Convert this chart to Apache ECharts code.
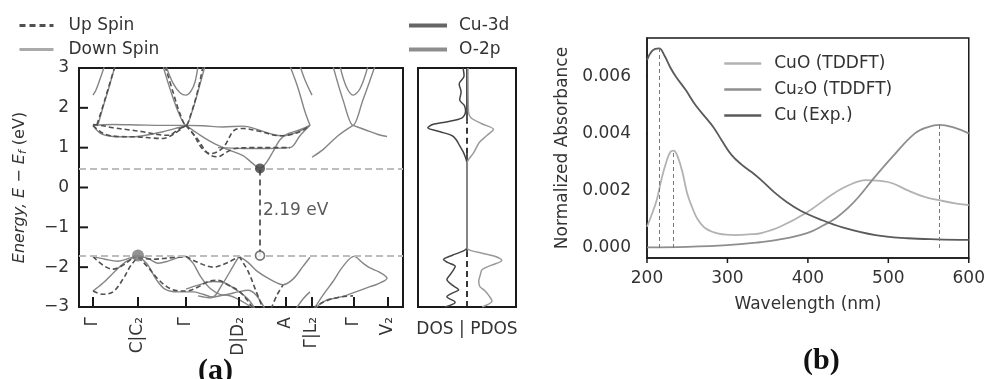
<!DOCTYPE html>
<html>
<head>
<meta charset="utf-8">
<script src="https://cdn.jsdelivr.net/npm/echarts@6/dist/echarts.min.js"></script>
<style>
html,body{margin:0;padding:0;background:#fff;}
#chart{width:988px;height:379px;}
</style>
</head>
<body>
<div id="chart"></div>
<script>
// ---------- (a) band structure ----------
const kTickPos = [0, 0.45, 0.93, 1.46, 1.93, 2.19, 2.61, 2.95];
const kTickLabels = ['Γ', 'C|C₂', 'Γ', 'D|D₂', 'A', 'Γ|L₂', 'Γ', 'V₂'];
const energyTicks = [-3, -2, -1, 0, 1, 2, 3];

// band edges and k-points of the extrema (eV)
const cbm = 0.48;
const vbm = -1.71;
const kGap = 1.67;
const kVbm = 0.45;
const gapLabelE = -0.58;

// spin-up bands [k, E]
const upSpinBands = [
  [[0.04,1.58],[0.1,2.05],[0.16,2.55],[0.22,3.05]],
  [[0,1.58],[0.1,1.55],[0.2,1.5],[0.35,1.45],[0.5,1.4],[0.65,1.33],[0.75,1.31],[0.85,1.45],[0.93,1.56]],
  [[0,1.56],[0.1,1.36],[0.25,1.28],[0.45,1.27],[0.6,1.24],[0.7,1.23],[0.8,1.33],[0.93,1.56]],
  [[0.72,3.05],[0.8,2.4],[0.87,1.85],[0.93,1.56],[0.98,1.85],[1.05,2.45],[1.10,3.05]],
  [[0.93,1.56],[1.0,1.35],[1.1,0.95],[1.18,0.85],[1.3,1.0],[1.42,1.45],[1.5,1.48],[1.65,1.42],[1.87,1.3],[2.05,1.38],[2.17,1.56]],
  [[0.93,1.56],[1.05,1.2],[1.15,0.85],[1.25,0.77],[1.33,0.88],[1.42,0.98],[1.6,1.0],[1.8,1.0],[1.97,1.0]],
  [[0,-1.73],[0.1,-1.95],[0.2,-2.05],[0.3,-1.95],[0.4,-1.77],[0.45,-1.72]],
  [[0,-2.6],[0.1,-2.68],[0.2,-2.62],[0.3,-2.3],[0.38,-1.95],[0.45,-1.75]],
  [[0.45,-1.75],[0.55,-2.0],[0.65,-2.3],[0.78,-2.55],[0.93,-2.6],[1.05,-2.5],[1.15,-2.36],[1.25,-2.33],[1.35,-2.45],[1.46,-2.6],[1.55,-2.85],[1.6,-3.05]],
  [[0.45,-1.76],[0.6,-1.8],[0.75,-1.77],[0.93,-1.73]],
  [[0.93,-1.73],[1.05,-1.88],[1.2,-2.0],[1.35,-1.88],[1.46,-1.73]],
  [[1.46,-1.73],[1.55,-2.1],[1.63,-2.6],[1.7,-3.05]],
  [[1.78,-3.05],[1.84,-2.7],[1.9,-2.45]],
  [[2.2,-3.05],[2.3,-2.88],[2.45,-2.76],[2.6,-2.72]]
];

// spin-down bands [k, E]
const downSpinBands = [
  [[0,2.32],[0.03,2.45],[0.07,2.72],[0.115,3.05]],
  [[0.05,1.58],[0.11,2.1],[0.17,2.6],[0.22,3.05]],
  [[0,1.56],[0.2,1.58],[0.45,1.57],[0.7,1.56],[0.93,1.56],[1.1,1.55],[1.3,1.52],[1.5,1.54],[1.65,1.45],[1.8,1.33],[1.9,1.3],[2.05,1.4],[2.17,1.56]],
  [[0,1.56],[0.08,1.35],[0.2,1.28],[0.35,1.27],[0.5,1.3],[0.7,1.4],[0.85,1.5],[0.93,1.56]],
  [[0.70,3.05],[0.78,2.4],[0.86,1.85],[0.93,1.56],[0.99,1.9],[1.06,2.5],[1.12,3.05]],
  [[0.73,3.05],[0.8,2.62],[0.87,2.38],[0.93,2.32],[0.98,2.42],[1.02,2.65],[1.05,3.05]],
  [[0.93,1.56],[1.05,1.35],[1.2,1.12],[1.35,0.95],[1.5,0.8],[1.6,0.6],[1.67,0.48],[1.74,0.65],[1.8,0.9],[1.87,1.2],[1.95,1.35],[2.07,1.45],[2.17,1.56]],
  [[1.25,1.0],[1.5,0.98],[1.75,0.98],[1.97,1.0],[2.07,1.3],[2.17,1.56]],
  [[1.97,3.05],[2.05,2.5],[2.12,1.9],[2.17,1.56]],
  [[2.07,3.05],[2.12,2.7],[2.19,2.32]],
  [[2.40,3.05],[2.5,2.2],[2.6,1.56],[2.7,2.2],[2.82,3.05]],
  [[2.47,3.05],[2.53,2.55],[2.6,2.32],[2.67,2.48],[2.75,3.05]],
  [[2.6,1.56],[2.72,1.45],[2.85,1.33],[2.94,1.28]],
  [[2.19,0.76],[2.3,0.95],[2.45,1.3],[2.6,1.56]],
  [[0,-1.73],[0.12,-1.8],[0.25,-1.85],[0.38,-1.76],[0.45,-1.71]],
  [[0,-2.6],[0.1,-2.4],[0.2,-2.15],[0.32,-1.88],[0.45,-1.71]],
  [[0.45,-1.71],[0.55,-1.78],[0.65,-1.9],[0.75,-1.85],[0.85,-1.76],[0.93,-1.73]],
  [[0.45,-1.71],[0.55,-1.95],[0.63,-2.3],[0.72,-2.55],[0.85,-2.62],[1.0,-2.62],[1.1,-2.68],[1.2,-2.75],[1.32,-2.7],[1.45,-2.8],[1.55,-2.95],[1.62,-3.05]],
  [[0.93,-1.73],[1.0,-1.9],[1.08,-2.25],[1.18,-2.55],[1.3,-2.7],[1.45,-2.62],[1.55,-2.58],[1.63,-2.7],[1.72,-3.05]],
  [[0.93,-2.55],[1.05,-2.45],[1.2,-2.36],[1.3,-2.38],[1.42,-2.55],[1.55,-2.8],[1.62,-3.05]],
  [[1.46,-1.73],[1.55,-1.88],[1.64,-2.1],[1.78,-2.32],[1.9,-2.44],[2.0,-2.3],[2.1,-1.98],[2.17,-1.75]],
  [[1.05,-2.72],[1.18,-2.77],[1.3,-2.4],[1.4,-1.98],[1.46,-1.73]],
  [[2.21,-3.05],[2.3,-2.7],[2.4,-2.36],[2.5,-1.98],[2.61,-1.73],[2.7,-1.9],[2.77,-2.02],[2.86,-2.12],[2.94,-2.28],[2.85,-2.42],[2.77,-2.49],[2.65,-2.6],[2.54,-2.7],[2.42,-2.78],[2.34,-2.82],[2.26,-2.95],[2.22,-3.05]],
  [[2.03,-3.05],[2.1,-2.8],[2.17,-2.62]]
];

// density of states [weight, E]
const dosLeft = [[-0.45,-3.0],[-0.24,-2.88],[-0.41,-2.74],[-0.3,-2.65],[-0.17,-2.57],[-0.3,-2.45],[-0.41,-2.31],[-0.32,-2.15],[-0.24,-1.98],[-0.4,-1.88],[-0.48,-1.81],[-0.3,-1.7],[-0.05,-1.58],[0,-1.5],[0,0.6],[-0.03,0.75],[-0.08,0.9],[-0.15,1.05],[-0.22,1.2],[-0.3,1.3],[-0.55,1.4],[-0.8,1.5],[-0.7,1.58],[-0.4,1.65],[-0.1,1.75],[-0.03,1.9],[-0.05,2.05],[-0.15,2.2],[-0.12,2.4],[-0.16,2.6],[-0.06,2.8],[-0.08,3.0]];
const dosRight = [[0.31,-3.0],[0.51,-2.85],[0.45,-2.72],[0.37,-2.6],[0.26,-2.48],[0.24,-2.35],[0.27,-2.2],[0.31,-2.06],[0.5,-1.95],[0.71,-1.83],[0.55,-1.72],[0.2,-1.62],[0.03,-1.56],[0,-1.5],[0,0.6],[0.03,0.7],[0.14,0.88],[0.25,1.13],[0.4,1.3],[0.54,1.46],[0.3,1.6],[0.08,1.75],[0.03,1.9],[0.02,3.0]];
const dosZeroSolid = [[-1.6, 0.85], [1.65, 3.0]];
const dosZeroDashed = [[-3.0, -1.6], [0.85, 1.65]];

// ---------- (b) absorbance ----------
const wlTicks = [200, 300, 400, 500, 600];
const absTicks = [0, 0.002, 0.004, 0.006];
const cuOSpectrum = [[200,0.00074],[205,0.0011],[212,0.00167],[218,0.0024],[224,0.003],[229,0.00335],[233,0.0034],[238,0.0032],[244,0.00265],[250,0.0019],[256,0.00143],[263,0.001],[273,0.00068],[289,0.0005],[310,0.00045],[330,0.00048],[342,0.00052],[366,0.00075],[399,0.00125],[432,0.0019],[450,0.00218],[472,0.00237],[490,0.00234],[505,0.00226],[525,0.002],[545,0.00178],[566,0.00165],[585,0.00155],[600,0.0015]];
const cu2OSpectrum = [[200,0.00002],[250,0.00004],[300,0.0001],[340,0.0002],[362,0.00028],[399,0.00052],[420,0.0008],[435,0.00105],[450,0.0014],[463,0.00178],[480,0.00237],[505,0.00318],[533,0.004],[550,0.00423],[563,0.0043],[582,0.0042],[600,0.004]];
const cuExpSpectrum = [[200,0.00656],[207,0.0069],[215,0.00697],[222,0.0067],[229,0.0063],[236,0.00598],[248,0.00552],[260,0.005],[273,0.00455],[283,0.0042],[293,0.00375],[305,0.00325],[318,0.0029],[330,0.00265],[342,0.00237],[358,0.00195],[374,0.0016],[391,0.0013],[415,0.001],[443,0.00072],[484,0.00045],[524,0.00034],[560,0.0003],[600,0.00028]];

// ---------- layout ----------
const FONT = 'DejaVu Sans';
const TXT = '#333';
const AX = '#1a1a1a';
const G0 = { left: 79, top: 68, width: 324, height: 239 };
const G1 = { left: 418, top: 68, width: 98, height: 239 };
const G2 = { left: 647, top: 38, width: 328, height: 220 };
const kRange = [-0.14, 3.10];
const eRange = [-3, 3];
const wlRange = [200, 600];
const absRange = [-0.00035, 0.00733];

// data units per screen pixel, used to size the tick marks
const kPerPx = (kRange[1] - kRange[0]) / G0.width;
const ePerPx = (eRange[1] - eRange[0]) / G0.height;
const wlPerPx = (wlRange[1] - wlRange[0]) / G2.width;
const absPerPx = (absRange[1] - absRange[0]) / G2.height;

const minus = v => (v < 0 ? '\u2212' + (-v) : String(v));
const peakOf = arr => arr.reduce((a, b) => (b[1] > a[1] ? b : a));

const series = [];
const tick = (xi, seg, w) => series.push({
  type: 'line', xAxisIndex: xi, yAxisIndex: xi, data: seg, clip: false,
  symbol: 'none', silent: true, z: 6, lineStyle: { color: AX, width: w }
});

downSpinBands.forEach(pts => series.push({
  type: 'line', name: 'Down Spin', xAxisIndex: 0, yAxisIndex: 0, data: pts,
  smooth: 0.35, symbol: 'none', silent: true,
  itemStyle: { color: '#aaaaaa' },
  lineStyle: { color: '#858585', width: 1.4 }
}));
upSpinBands.forEach(pts => series.push({
  type: 'line', name: 'Up Spin', xAxisIndex: 0, yAxisIndex: 0, data: pts,
  smooth: 0.35, symbol: 'none', silent: true,
  itemStyle: { color: '#505050' },
  lineStyle: { color: '#505050', width: 1.6, type: [5, 3] }
}));
// gap marker: vertical dashed connector plus reference lines at the band edges
series.push({
  type: 'line', xAxisIndex: 0, yAxisIndex: 0, data: [[kGap, vbm], [kGap, cbm]],
  symbol: 'none', silent: true, z: 3,
  lineStyle: { color: '#555', width: 1.8, type: [6, 4] },
  markLine: {
    silent: true, symbol: 'none', label: { show: false },
    lineStyle: { color: '#bdbdbd', width: 1.8, type: [7, 4] },
    data: [{ yAxis: cbm }, { yAxis: vbm }]
  }
});
series.push({
  type: 'scatter', xAxisIndex: 0, yAxisIndex: 0, z: 5, silent: true,
  data: [
    { value: [kGap, cbm], symbolSize: 10, itemStyle: { color: '#3c3c3c' } },
    { value: [kGap, vbm], symbolSize: 9, itemStyle: { color: '#fff', borderColor: '#555', borderWidth: 1.6 } },
    { value: [kVbm, vbm], symbolSize: 12, itemStyle: { color: '#777' } }
  ]
});
series.push({
  type: 'scatter', xAxisIndex: 0, yAxisIndex: 0, z: 5, silent: true, symbolSize: 0,
  data: [[kGap, gapLabelE]],
  label: {
    show: true, position: 'right', distance: 3,
    formatter: () => (cbm - vbm).toFixed(2) + ' eV',
    fontFamily: FONT, fontSize: 17, color: TXT
  }
});
// inward tick marks of the band panel
kTickPos.forEach(k => tick(0, [[k, eRange[0]], [k, eRange[0] + 10 * ePerPx]], 2));
energyTicks.forEach(e => tick(0, [[kRange[0], e], [kRange[0] + 9 * kPerPx, e]], 2));

// DOS panel
dosZeroSolid.forEach(r => series.push({
  type: 'line', xAxisIndex: 1, yAxisIndex: 1, data: [[0, r[0]], [0, r[1]]],
  symbol: 'none', silent: true, lineStyle: { color: '#222', width: 1.6 }
}));
dosZeroDashed.forEach(r => series.push({
  type: 'line', xAxisIndex: 1, yAxisIndex: 1, data: [[0, r[0]], [0, r[1]]],
  symbol: 'none', silent: true, lineStyle: { color: '#222', width: 1.8, type: [6, 4] }
}));
series.push({
  type: 'line', name: 'Cu-3d', xAxisIndex: 1, yAxisIndex: 1, data: dosLeft,
  smooth: 0.3, symbol: 'none', silent: true,
  itemStyle: { color: '#666' }, lineStyle: { color: '#444', width: 1.5 }
});
series.push({
  type: 'line', name: 'O-2p', xAxisIndex: 1, yAxisIndex: 1, data: dosRight,
  smooth: 0.3, symbol: 'none', silent: true,
  itemStyle: { color: '#8d8d8d' }, lineStyle: { color: '#9a9a9a', width: 1.5 }
});

// absorbance panel
const spectra = [
  { name: 'CuO (TDDFT)', data: cuOSpectrum, color: '#b2b2b2' },
  { name: 'Cu₂O (TDDFT)', data: cu2OSpectrum, color: '#8e8e8e' },
  { name: 'Cu (Exp.)', data: cuExpSpectrum, color: '#5a5a5a' }
];
spectra.forEach(s => {
  const pk = peakOf(s.data);
  series.push({
    type: 'line', name: s.name, xAxisIndex: 2, yAxisIndex: 2, data: s.data,
    smooth: 0.4, symbol: 'none', silent: true,
    itemStyle: { color: s.color },
    lineStyle: { color: s.color, width: 1.8 },
    markLine: {
      silent: true, symbol: 'none', label: { show: false },
      lineStyle: { color: '#777', width: 1, type: [4, 3] },
      data: [[{ coord: [pk[0], 0] }, { coord: [pk[0], pk[1]] }]]
    }
  });
});
// outward tick marks of the absorbance panel
wlTicks.forEach(w => tick(2, [[w, absRange[0]], [w, absRange[0] - 5 * absPerPx]], 1.5));
absTicks.forEach(a => tick(2, [[wlRange[0], a], [wlRange[0] - 7 * wlPerPx, a]], 1.5));

const legendText = { fontFamily: FONT, fontSize: 17, color: TXT, padding: [0, 0, 0, 10] };
const noMarker = { opacity: 0 };
const frameLine = { show: true, onZero: false, lineStyle: { color: AX, width: 2 } };
const hidden = { show: false };

const option = {
  animation: false,
  backgroundColor: '#fff',
  textStyle: { fontFamily: FONT },
  grid: [
    { ...G0, show: true, borderColor: AX, borderWidth: 2, backgroundColor: 'transparent' },
    { ...G1, show: true, borderColor: AX, borderWidth: 2, backgroundColor: 'transparent' },
    { ...G2, show: true, borderColor: AX, borderWidth: 1.5, backgroundColor: 'transparent' }
  ],
  xAxis: [
    {
      gridIndex: 0, type: 'value', min: kRange[0], max: kRange[1],
      axisLine: frameLine, splitLine: hidden, axisTick: hidden,
      axisLabel: {
        customValues: kTickPos, rotate: 90, margin: 10,
        fontFamily: FONT, fontSize: 17, color: TXT,
        formatter: v => {
          let best = 0;
          kTickPos.forEach((p, i) => { if (Math.abs(p - v) < Math.abs(kTickPos[best] - v)) best = i; });
          return kTickLabels[best];
        }
      }
    },
    {
      gridIndex: 1, type: 'value', min: -1, max: 1,
      axisLine: frameLine, axisTick: hidden, axisLabel: hidden, splitLine: hidden,
      name: 'DOS | PDOS', nameLocation: 'middle', nameGap: 14,
      nameTextStyle: { fontFamily: FONT, fontSize: 17, color: TXT }
    },
    {
      gridIndex: 2, type: 'value', min: wlRange[0], max: wlRange[1], interval: 100,
      axisLine: { show: true, onZero: false, lineStyle: { color: AX, width: 1.5 } }, splitLine: hidden, axisTick: hidden,
      axisLabel: { margin: 12, fontFamily: FONT, fontSize: 17, color: TXT },
      name: 'Wavelength (nm)', nameLocation: 'middle', nameGap: 38,
      nameTextStyle: { fontFamily: FONT, fontSize: 17, color: TXT }
    }
  ],
  yAxis: [
    {
      gridIndex: 0, type: 'value', min: eRange[0], max: eRange[1], interval: 1,
      axisLine: frameLine, splitLine: hidden, axisTick: hidden,
      axisLabel: { margin: 10, fontFamily: FONT, fontSize: 17, color: TXT, formatter: minus },
      name: '{i|Energy, E − E}{s|f}{n| (eV)}', nameLocation: 'middle', nameGap: 50, nameRotate: 90,
      nameTextStyle: {
        fontFamily: FONT, fontSize: 16, color: TXT,
        rich: {
          i: { fontFamily: FONT, fontSize: 16, fontStyle: 'italic', color: TXT },
          s: { fontFamily: FONT, fontSize: 11, fontStyle: 'italic', color: TXT, padding: [8, 0, 0, 0] },
          n: { fontFamily: FONT, fontSize: 16, color: TXT }
        }
      }
    },
    {
      gridIndex: 1, type: 'value', min: eRange[0], max: eRange[1],
      axisLine: frameLine, axisTick: hidden, axisLabel: hidden, splitLine: hidden
    },
    {
      gridIndex: 2, type: 'value', min: absRange[0], max: absRange[1],
      axisLine: { show: true, onZero: false, lineStyle: { color: AX, width: 1.5 } }, splitLine: hidden, axisTick: hidden,
      axisLabel: { customValues: absTicks, margin: 16, fontFamily: FONT, fontSize: 17, color: TXT, formatter: v => v.toFixed(3) },
      name: 'Normalized Absorbance', nameLocation: 'middle', nameGap: 76, nameRotate: 90,
      nameTextStyle: { fontFamily: FONT, fontSize: 17, color: TXT }
    }
  ],
  legend: [
    {
      left: 13, top: 12, padding: 5, orient: 'vertical', itemWidth: 34, itemHeight: 14, itemGap: 7,
      textStyle: legendText, selectedMode: false, itemStyle: noMarker,
      data: [
        { name: 'Up Spin', itemStyle: noMarker, lineStyle: { width: 3, color: '#505050', type: [6, 4] } },
        { name: 'Down Spin', itemStyle: noMarker, lineStyle: { width: 3, color: '#aaaaaa' } }
      ]
    },
    {
      left: 402, top: 12, padding: 5, orient: 'vertical', itemWidth: 38, itemHeight: 14, itemGap: 7,
      textStyle: { ...legendText, padding: [0, 0, 0, 7] }, selectedMode: false, itemStyle: noMarker,
      data: [
        { name: 'Cu-3d', itemStyle: noMarker, lineStyle: { width: 4, color: '#666' } },
        { name: 'O-2p', itemStyle: noMarker, lineStyle: { width: 4, color: '#8d8d8d' } }
      ]
    },
    {
      left: 718, top: 50, padding: 5, orient: 'vertical', itemWidth: 37, itemHeight: 14, itemGap: 9,
      textStyle: { ...legendText, padding: [0, 0, 0, 8] }, selectedMode: false, itemStyle: noMarker,
      data: spectra.map(s => ({ name: s.name, itemStyle: noMarker, lineStyle: { width: 2.5, color: s.color } }))
    }
  ],
  graphic: [
    { type: 'text', left: 198, top: 356, style: { text: '(a)', font: 'bold 30px "Liberation Serif"', fill: '#111' } },
    { type: 'text', left: 803, top: 346, style: { text: '(b)', font: 'bold 30px "Liberation Serif"', fill: '#111' } }
  ],
  series: series
};

const chart = echarts.init(document.getElementById('chart'), null, { renderer: 'canvas' });
chart.setOption(option);
</script>
</body>
</html>
